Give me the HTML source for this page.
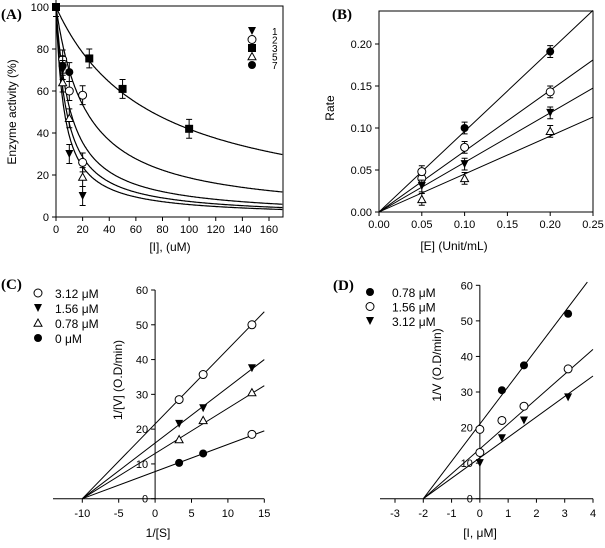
<!DOCTYPE html>
<html><head><meta charset="utf-8">
<style>
html,body{margin:0;padding:0;background:#fff;}
svg{display:block;}
text{font-family:"Liberation Sans",sans-serif;fill:#000;}
.pl{font-family:"Liberation Serif",serif;font-weight:bold;font-size:15px;}
</style></head>
<body>
<svg id="fig" width="605" height="548" viewBox="0 0 605 548" xmlns="http://www.w3.org/2000/svg"></svg>
<script>
// ---- Panel A data ----
const aXTicks=[0,20,40,60,80,100,120,140,160];
const aYTicks=[0,20,40,60,80,100];
const aIC50=[72,23,11,8,6.3];
const aS1x=[0,5,10,20], aS1y=[100,70,30,10];
const aS2x=[5,10,20,20], aS2y=[75,60,58,26];
const aS3x=[25,50,100], aS3y=[75.5,61,42];
const aS5x=[5,10,20], aS5y=[64,47,19];
const aS7x=[0,5,10], aS7y=[100,72,69];
const aLegend=["1","2","3","5","7"];
// ---- Panel B data ----
const bXTicks=[0,0.05,0.10,0.15,0.20,0.25];
const bYTicks=[0,0.05,0.10,0.15,0.20];
const bSlopes=[0.96,0.724,0.59,0.452];
const bX=[0.05,0.10,0.20];
const bFilled=[0.048,0.100,0.191];
const bOpen=[0.040,0.077,0.143];
const bDown=[0.031,0.057,0.118];
const bUp=[0.015,0.040,0.096];
// ---- Panel C data ----
const cXTicks=[-10,-5,0,5,10,15];
const cYTicks=[0,10,20,30,40,50,60];
const cX=[3.3,6.6,13.3];
const cOpen=[28.5,35.7,50];
const cDown=[21.5,26,37.5];
const cUp=[17,22.5,30.5];
const cFill=[10.3,13,18.5];
const cIntercepts=[21.5,16,13,7.8];
const cLegend=["3.12 \u03bcM","1.56 \u03bcM","0.78 \u03bcM","0 \u03bcM"];
// ---- Panel D data ----
const dXTicks=[-3,-2,-1,0,1,2,3,4];
const dYTicks=[0,10,20,30,40,50,60];
const dX=[0,0.78,1.56,3.12];
const dFill=[null,30.5,37.5,52];
const dOpen=[19.5,22,26,36.5];
const dOpenExtra=[13];
const dDown=[10,17,22,28.5];
const dIntercepts=[21,14,11.5];
const dLegend=["0.78 \u03bcM","1.56 \u03bcM","3.12 \u03bcM"];

const NS="http://www.w3.org/2000/svg";
const svg=document.getElementById('fig');
function mk(tag,attrs,parent){const e=document.createElementNS(NS,tag);for(const k in attrs)e.setAttribute(k,attrs[k]);(parent||svg).appendChild(e);return e;}
function txt(s,x,y,opt,parent){const t=mk('text',Object.assign({x:x,y:y,'font-size':11},opt||{}),parent);t.textContent=s;return t;}
function lin(d0,d1,r0,r1){return v=>r0+(v-d0)*(r1-r0)/(d1-d0);}
function marker(kind,x,y,g){
  const r=4;let e;
  if(kind==='fc'){e=mk('circle',{cx:x,cy:y,r:r,fill:'#000'},g);}
  else if(kind==='oc'){e=mk('circle',{cx:x,cy:y,r:r,fill:'#fff',stroke:'#000','stroke-width':1},g);}
  else if(kind==='sq'){e=mk('rect',{x:x-r,y:y-r,width:2*r,height:2*r,fill:'#000'},g);}
  else if(kind==='dt'){e=mk('polygon',{points:`${x-r},${y-r} ${x+r},${y-r} ${x},${y+r}`,fill:'#000'},g);}
  else {e=mk('polygon',{points:`${x-r},${y+r*0.8} ${x+r},${y+r*0.8} ${x},${y-r}`,fill:'#fff',stroke:'#000','stroke-width':1},g);}
  
  
}
function ebar(x,y1,y2,g){
  mk('path',{d:`M${x},${y1}V${y2}M${x-3},${y1}H${x+3}M${x-3},${y2}H${x+3}`,stroke:'#000','stroke-width':1,fill:'none'},g);
}
function group(name){const g=mk('g',{});return g;}

// ================= Panel A =================
(function(){
 const g=group('panel-a');
 const X=lin(0,160,56,269), Y=lin(0,100,217,7);
 mk('rect',{x:56,y:6,width:227,height:211,fill:'none',stroke:'#000','stroke-width':1},g);
 aXTicks.forEach(v=>{mk('line',{x1:X(v),x2:X(v),y1:217,y2:221,stroke:'#000'},g);txt(v,X(v),233,{'text-anchor':'middle'},g);});
 aYTicks.forEach(v=>{mk('line',{x1:52,x2:56,y1:Y(v),y2:Y(v),stroke:'#000'},g);txt(v,49,Y(v)+4,{'text-anchor':'end'},g);});
 const yl=txt('Enzyme activity (%)',16,112,{'text-anchor':'middle','font-size':12,transform:'rotate(-90 16 112)'},g);
 
 const xl=txt('[I], (uM)',170,251,{'text-anchor':'middle','font-size':12},g);
 
 const p=txt('(A)',1,19,{class:'pl'},g);
 aIC50.forEach(ic=>{let d='';for(let v=0;v<=170;v+=0.5){d+=(v?'L':'M')+X(v).toFixed(1)+','+Y(100/(1+v/ic)).toFixed(1);}
   const c=mk('path',{d:d,fill:'none',stroke:'#000','stroke-width':1.2},g);});
 const sets=[[aS3x,aS3y,'sq'],[aS2x,aS2y,'oc'],[aS7x,aS7y,'fc'],[aS5x,aS5y,'ut'],[aS1x,aS1y,'dt']];
 sets.forEach(([xs,ys,k])=>xs.forEach((v,i)=>{ebar(X(v),Y(ys[i]+4.5),Y(ys[i]-4.5),g);marker(k,X(v),Y(ys[i]),g);}));
 marker('sq',X(0),Y(100),g);
 const lk=['dt','oc','sq','ut','fc'];
 aLegend.forEach((s,i)=>{const y=31+i*8.5;marker(lk[i],252,y,g);txt(s,272,y+4,{'font-size':10},g);});
})();

// ================= Panel B =================
(function(){
 const g=group('panel-b');
 const X=lin(0,0.25,379,593), Y=lin(0,0.20,212,44);
 mk('rect',{x:379,y:11,width:214,height:201,fill:'none',stroke:'#000'},g);
 bXTicks.forEach(v=>{mk('line',{x1:X(v),x2:X(v),y1:212,y2:216,stroke:'#000'},g);txt(v.toFixed(2),X(v),228,{'text-anchor':'middle'},g);});
 bYTicks.forEach(v=>{mk('line',{x1:375,x2:379,y1:Y(v),y2:Y(v),stroke:'#000'},g);txt(v.toFixed(2),372,Y(v)+4,{'text-anchor':'end'},g);});
 const yl=txt('Rate',334,108,{'text-anchor':'middle','font-size':12,transform:'rotate(-90 334 108)'},g);
 
 const xl=txt('[E] (Unit/mL)',454,250,{'text-anchor':'middle','font-size':12},g);
 
 const p=txt('(B)',332,19,{class:'pl'},g);
 bSlopes.forEach(s=>{const l=mk('line',{x1:X(0),y1:Y(0),x2:X(0.25),y2:Y(0.25*s),stroke:'#000','stroke-width':1},g);});
 [[bFilled,'fc'],[bOpen,'oc'],[bDown,'dt'],[bUp,'ut']].forEach(([ys,k])=>bX.forEach((v,i)=>{ebar(X(v),Y(ys[i]+0.007),Y(ys[i]-0.007),g);marker(k,X(v),Y(ys[i]),g);}));
 marker('oc',X(0.05),Y(0.048),g);
})();

// ================= Panel C =================
(function(){
 const g=group('panel-c');
 const X=lin(-10,15,82.3,264.3), Y=lin(0,60,498.7,290);
 mk('line',{x1:53,x2:264,y1:498.7,y2:498.7,stroke:'#000'},g);
 mk('line',{x1:X(0),x2:X(0),y1:290,y2:498.7,stroke:'#000'},g);
 cXTicks.forEach(v=>{mk('line',{x1:X(v),x2:X(v),y1:498.7,y2:502.7,stroke:'#000'},g);txt(v,X(v),517,{'text-anchor':'middle'},g);});
 cYTicks.forEach(v=>{mk('line',{x1:X(0)-4,x2:X(0),y1:Y(v),y2:Y(v),stroke:'#000'},g);txt(v,X(0)-7,Y(v)+4,{'text-anchor':'end'},g);});
 const yl=txt('1/[V] (O.D/min)',122,380,{'text-anchor':'middle','font-size':12,transform:'rotate(-90 122 380)'},g);
 
 const xl=txt('1/[S]',158,537,{'text-anchor':'middle','font-size':12},g);
 
 const p=txt('(C)',1,289,{class:'pl'},g);
 cIntercepts.forEach(b=>{const s=b/10;const l=mk('line',{x1:X(-10),y1:Y(0),x2:X(15),y2:Y(b+15*s),stroke:'#000'},g);});
 [[cOpen,'oc'],[cDown,'dt'],[cUp,'ut']].forEach(([ys,k])=>cX.forEach((v,i)=>marker(k,X(v),Y(ys[i]),g)));
 cX.forEach((v,i)=>marker(i<2?'fc':'oc',X(v),Y(cFill[i]),g));
 const lk=['oc','dt','ut','fc'];
 cLegend.forEach((s,i)=>{const y=293+i*15;marker(lk[i],38,y,g);const t=txt(s,55,y+5,{'font-size':12},g);});
})();

// ================= Panel D =================
(function(){
 const g=group('panel-d');
 const X=lin(-3,4,395,593), Y=lin(0,60,498.7,285.3);
 mk('line',{x1:380,x2:593,y1:498.7,y2:498.7,stroke:'#000'},g);
 mk('line',{x1:X(0),x2:X(0),y1:285.3,y2:498.7,stroke:'#000'},g);
 dXTicks.forEach(v=>{mk('line',{x1:X(v),x2:X(v),y1:498.7,y2:502.7,stroke:'#000'},g);txt(v,X(v),517,{'text-anchor':'middle'},g);});
 dYTicks.forEach(v=>{mk('line',{x1:X(0)-4,x2:X(0),y1:Y(v),y2:Y(v),stroke:'#000'},g);txt(v,X(0)-7,Y(v)+4,{'text-anchor':'end'},g);});
 const yl=txt('1/V (O.D/min)',441,365,{'text-anchor':'middle','font-size':12,transform:'rotate(-90 441 365)'},g);
 
 const xl=txt('[I, \u03bcM]',480,537,{'text-anchor':'middle','font-size':12},g);
 
 const p=txt('(D)',333,290,{class:'pl'},g);
 dIntercepts.forEach((b,i)=>{const s=b/2;const xe=i===0?3.8:4;const l=mk('line',{x1:X(-2),y1:Y(0),x2:X(xe),y2:Y(b+xe*s),stroke:'#000'},g);});
 dX.forEach((v,i)=>{if(dFill[i]!==null)marker('fc',X(v),Y(dFill[i]),g);marker('oc',X(v),Y(dOpen[i]),g);marker('dt',X(v),Y(dDown[i]),g);});
 dOpenExtra.forEach(v=>marker('oc',X(0),Y(v),g));
 const lk=['fc','oc','dt'];
 dLegend.forEach((s,i)=>{const y=292+i*14.5;marker(lk[i],370,y,g);const t=txt(s,392,y+5,{'font-size':12},g);});
})();
</script>
</body></html>
